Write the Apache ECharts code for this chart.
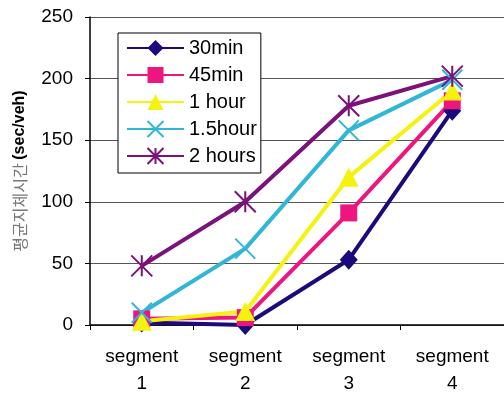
<!DOCTYPE html>
<html>
<head>
<meta charset="utf-8">
<script src="https://cdn.jsdelivr.net/npm/echarts@6/dist/echarts.min.js"></script>
<style>
  html, body { margin: 0; padding: 0; background: #fff; }
  #chart { width: 504px; height: 395px; }
</style>
</head>
<body>
<div id="chart"></div>
<script>
// Average delay per segment for each signal interval
const categories = ['segment\n1', 'segment\n2', 'segment\n3', 'segment\n4'];
const seriesNames = ['30min', '45min', '1 hour', '1.5hour', '2 hours'];
const delay30min = [2, 0, 53, 174];
const delay45min = [5, 6, 91, 182];
const delay1hour = [3, 11, 120, 190];
const delay15hour = [10, 62, 158, 199];
const delay2hours = [48, 100, 178, 202];
const yTicks = { min: 0, max: 250, interval: 50 };

const colors = ['#1b0a7c', '#ee167e', '#f5f20f', '#31b6d6', '#7b1179'];
const symbols = [
  'diamond',
  'rect',
  'triangle',
  'path://M0,0 L20,20 M20,0 L0,20',
  'path://M0,0 L20,20 M20,0 L0,20 M10,0 L10,20'
];
const symbolSizes = [[18, 20], 17, [20, 19], 20, 21];
const values = [delay30min, delay45min, delay1hour, delay15hour, delay2hours];

const font = "'Liberation Sans', Arial, sans-serif";

const series = seriesNames.map((name, i) => ({
  name: name,
  type: 'line',
  data: values[i],
  symbol: symbols[i],
  symbolSize: symbolSizes[i],
  showAllSymbol: true,
  lineStyle: { color: colors[i], width: 4 },
  itemStyle: {
    color: colors[i],
    borderColor: colors[i],
    borderWidth: i >= 3 ? 2 : 0
  },
  emphasis: { disabled: true },
  animation: false
}));

const chart = echarts.init(document.getElementById('chart'));
chart.setOption({
  backgroundColor: '#fff',
  animation: false,
  grid: { left: 90, right: 0, top: 17, bottom: 70, containLabel: false, outerBoundsMode: 'none' },
  legend: {
    orient: 'vertical',
    left: 118,
    top: 33,
    padding: [5, 4, 7, 8],
    itemGap: 7,
    itemWidth: 57,
    itemHeight: 20,
    itemTextGap: 4,
    borderColor: '#000',
    borderWidth: 1,
    backgroundColor: '#fff',
    textStyle: { fontFamily: font, fontSize: 20, color: '#000', lineHeight: 20 },
    data: seriesNames
  },
  xAxis: {
    type: 'category',
    data: categories,
    boundaryGap: true,
    axisLine: { lineStyle: { color: '#000', width: 1.5 } },
    axisTick: { show: true, length: 5, lineStyle: { color: '#000' } },
    axisLabel: {
      fontFamily: font,
      fontSize: 19,
      color: '#000',
      lineHeight: 27,
      margin: 18
    }
  },
  yAxis: {
    type: 'value',
    min: yTicks.min,
    max: yTicks.max,
    interval: yTicks.interval,
    name: '{ko|평균지체시간 }{unit|(sec/veh)}',
    nameLocation: 'middle',
    nameRotate: 90,
    nameGap: 62,
    nameTextStyle: {
      rich: {
        ko: { fontFamily: "'Noto Sans CJK KR', sans-serif", fontSize: 16, color: '#777' },
        unit: { fontFamily: font, fontSize: 16, fontWeight: 'bold', color: '#000' }
      }
    },
    axisLine: { show: true, lineStyle: { color: '#000', width: 1.5 } },
    axisTick: { show: true, length: 5, lineStyle: { color: '#000' } },
    axisLabel: { fontFamily: font, fontSize: 19, color: '#000', margin: 17 },
    splitLine: { show: true, lineStyle: { color: '#555', width: 1 } }
  },
  series: series
});
</script>
</body>
</html>
